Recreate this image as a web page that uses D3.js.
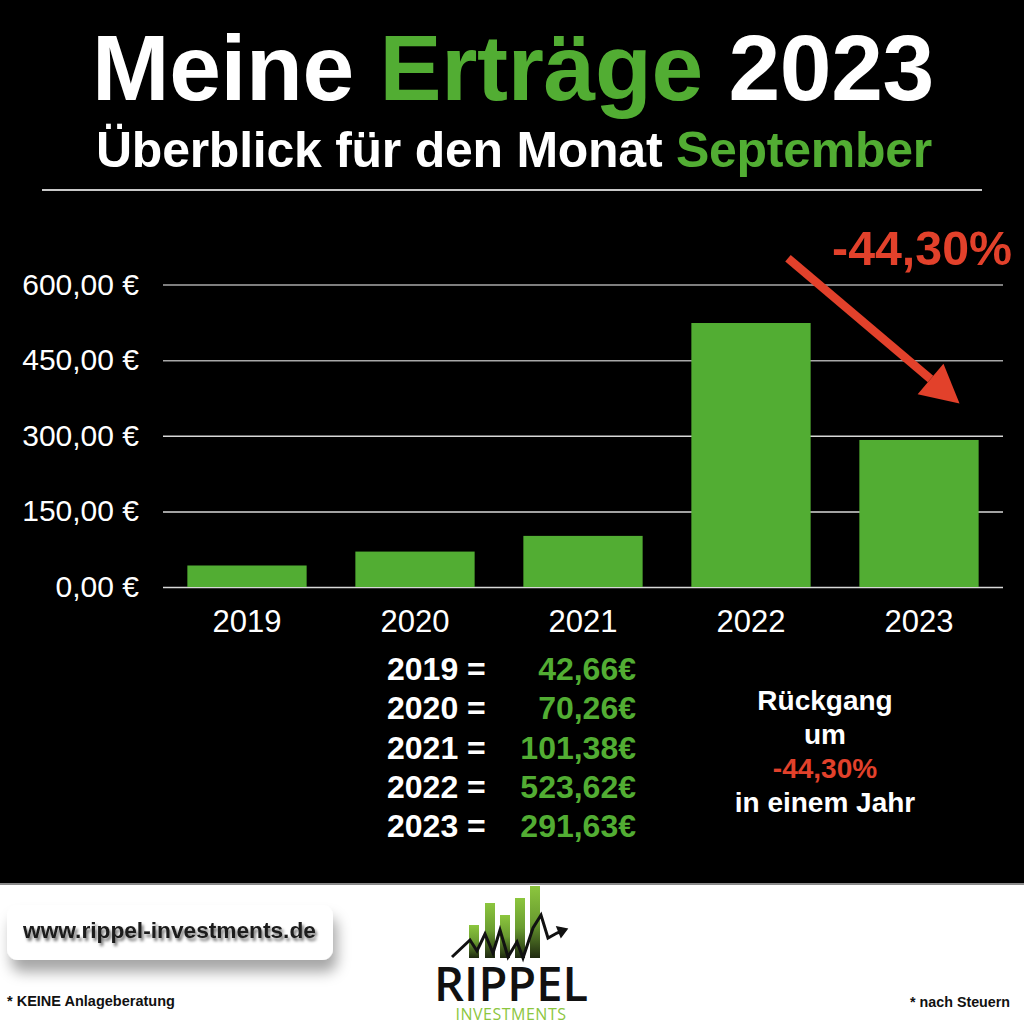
<!DOCTYPE html>
<html>
<head>
<meta charset="utf-8">
<script src="https://cdn.jsdelivr.net/npm/d3@7"></script>
<style>
  html, body { margin: 0; padding: 0; background: #fff; }
  svg { display: block; }
</style>
</head>
<body>
<svg id="chart" width="1024" height="1024"></svg>
<script>
// ---------- data ----------
const years = ["2019", "2020", "2021", "2022", "2023"];
const values = [42.66, 70.26, 101.38, 523.62, 291.63];
const yTicks = [0, 150, 300, 450, 600];
const changeLabel = "-44,30%";
const titleParts = ["Meine ", "Erträge", " 2023"];
const subtitleParts = ["Überblick für den Monat ", "September"];
const sideLines = ["Rückgang", "um", "-44,30%", "in einem Jahr"];
const footerLeft = "* KEINE Anlageberatung";
const footerRight = "* nach Steuern";
const url = "www.rippel-investments.de";

// ---------- setup ----------
const GREEN = "#52ad33";
const RED = "#e2412b";
const FONT = "'Liberation Sans', Arial, Helvetica, sans-serif";
const de = d3.formatLocale({ decimal: ",", thousands: ".", grouping: [3], currency: ["", "€"] });
const fmt2 = de.format(",.2f");

const svg = d3.select("#chart");

function fit(sel, w) {
  const len = sel.node().getComputedTextLength();
  const fs = parseFloat(sel.attr("font-size"));
  sel.attr("font-size", fs * w / len);
  return sel;
}
function fitLS(sel, w) {
  const len = sel.node().getComputedTextLength();
  const n = sel.text().length;
  sel.attr("letter-spacing", (w - len) / n);
  return sel;
}

// backgrounds
svg.append("rect").attr("x", 0).attr("y", 0).attr("width", 1024).attr("height", 884).attr("fill", "#000");
svg.append("rect").attr("x", 0).attr("y", 884).attr("width", 1024).attr("height", 140).attr("fill", "#fff");
svg.append("line").attr("x1", 0).attr("x2", 1024).attr("y1", 884).attr("y2", 884)
  .attr("stroke", "#8a8a8a").attr("stroke-width", 2);

// ---------- titles ----------
const title = svg.append("text")
  .attr("x", 513).attr("y", 100).attr("text-anchor", "middle")
  .attr("font-family", FONT).attr("font-weight", "bold").attr("font-size", 93).attr("fill", "#fff");
title.selectAll("tspan").data(titleParts).join("tspan")
  .attr("fill", (d, i) => i === 1 ? GREEN : "#fff").text(d => d);
fitLS(title, 842);

const sub = svg.append("text")
  .attr("x", 514).attr("y", 167).attr("text-anchor", "middle")
  .attr("font-family", FONT).attr("font-weight", "bold").attr("font-size", 50).attr("fill", "#fff");
sub.selectAll("tspan").data(subtitleParts).join("tspan")
  .attr("fill", (d, i) => i === 1 ? GREEN : "#fff").text(d => d);
fitLS(sub, 836);

svg.append("line").attr("x1", 42).attr("x2", 982).attr("y1", 190).attr("y2", 190)
  .attr("stroke", "#c8c8c8").attr("stroke-width", 2);

// ---------- chart ----------
const x = d3.scaleBand().domain(years).range([163, 1003]).paddingInner(0.29).paddingOuter(0.145);
const y = d3.scaleLinear().domain([0, 600]).range([587, 284.5]);

const yAxis = svg.append("g").attr("transform", "translate(163,0)")
  .call(d3.axisLeft(y).tickValues(yTicks).tickSize(-(1003 - 163)).tickPadding(24)
    .tickFormat(d => fmt2(d) + " €"));
yAxis.select(".domain").remove();
yAxis.selectAll(".tick line").attr("stroke", (d) => d >= 450 ? "#a8a8a8" : "#d8d8d8").attr("stroke-width", 1.5);
yAxis.selectAll(".tick text").attr("fill", "#fff").attr("font-family", FONT).attr("font-size", 30);

svg.append("g").selectAll("rect").data(values).join("rect")
  .attr("x", (d, i) => x(years[i]))
  .attr("width", x.bandwidth())
  .attr("y", d => y(d))
  .attr("height", d => y(0) - y(d))
  .attr("fill", GREEN);

const xAxis = svg.append("g").attr("transform", `translate(0,${y(0)})`)
  .call(d3.axisBottom(x).tickSize(0).tickPadding(23));
xAxis.select(".domain").remove();
xAxis.selectAll(".tick text").attr("fill", "#fff").attr("font-family", FONT).attr("font-size", 31);

// ---------- arrow annotation ----------
const ax0 = x("2022") + x.bandwidth() * 0.81, ay0 = y(652);
const ax1 = x("2023") + x.bandwidth() * 0.84, ay1 = y(364);
const ang = Math.atan2(ay1 - ay0, ax1 - ax0);
const headLen = 38, headHalf = 20, shaftW = 8.5;
const bx = ax1 - headLen * Math.cos(ang), by = ay1 - headLen * Math.sin(ang);
const nx = -Math.sin(ang), ny = Math.cos(ang);
svg.append("line").attr("x1", ax0).attr("y1", ay0).attr("x2", bx).attr("y2", by)
  .attr("stroke", RED).attr("stroke-width", shaftW);
svg.append("path")
  .attr("d", `M${ax1},${ay1}L${bx + nx * headHalf},${by + ny * headHalf}L${bx - nx * headHalf},${by - ny * headHalf}Z`)
  .attr("fill", RED);

const pct = svg.append("text").attr("x", 1012).attr("y", 265).attr("text-anchor", "end")
  .attr("font-family", FONT).attr("font-weight", "bold").attr("font-size", 46).attr("fill", RED)
  .text(changeLabel);
fit(pct, 180);

// ---------- value table ----------
const rowY = d3.scaleLinear().domain([0, 4]).range([680, 837]);
const tbl = svg.append("g").attr("font-family", FONT).attr("font-weight", "bold").attr("font-size", 32);
tbl.selectAll("text.lbl").data(years).join("text").attr("class", "lbl")
  .attr("x", 387).attr("y", (d, i) => rowY(i)).attr("fill", "#fff")
  .text(d => d + " =");
tbl.selectAll("text.val").data(values).join("text").attr("class", "val")
  .attr("x", 636).attr("y", (d, i) => rowY(i)).attr("text-anchor", "end").attr("fill", GREEN)
  .text(d => fmt2(d) + "€");

const side = svg.append("g").attr("font-family", FONT).attr("font-weight", "bold").attr("font-size", 28)
  .attr("text-anchor", "middle");
side.selectAll("text").data(sideLines).join("text")
  .attr("x", 825).attr("y", (d, i) => 710 + i * 34)
  .attr("fill", (d, i) => i === 2 ? RED : "#fff")
  .text(d => d);

// ---------- footer ----------
const defs = svg.append("defs");
const fBox = defs.append("filter").attr("id", "boxShadow").attr("x", "-20%").attr("y", "-40%").attr("width", "140%").attr("height", "200%");
fBox.append("feDropShadow").attr("dx", 4).attr("dy", 12).attr("stdDeviation", 7)
  .attr("flood-color", "#000").attr("flood-opacity", 0.35);
const fTxt = defs.append("filter").attr("id", "txtShadow").attr("x", "-10%").attr("y", "-50%").attr("width", "120%").attr("height", "200%");
fTxt.append("feDropShadow").attr("dx", 2).attr("dy", 3).attr("stdDeviation", 1.6)
  .attr("flood-color", "#000").attr("flood-opacity", 0.55);

svg.append("rect").attr("x", 7).attr("y", 905).attr("width", 326).attr("height", 55).attr("rx", 11)
  .attr("fill", "#fff").attr("filter", "url(#boxShadow)");
const urlT = svg.append("text").attr("x", 23).attr("y", 938)
  .attr("font-family", FONT).attr("font-weight", "bold").attr("font-size", 22).attr("fill", "#1a1a1a")
  .attr("filter", "url(#txtShadow)").text(url);
fit(urlT, 293);

const fl = svg.append("text").attr("x", 7).attr("y", 1006)
  .attr("font-family", FONT).attr("font-weight", "bold").attr("font-size", 14).attr("fill", "#111").text(footerLeft);
fit(fl, 168);
const fr = svg.append("text").attr("x", 1010).attr("y", 1007).attr("text-anchor", "end")
  .attr("font-family", FONT).attr("font-weight", "bold").attr("font-size", 14).attr("fill", "#111").text(footerRight);
fit(fr, 100);

// ---------- logo ----------
const logo = svg.append("g");
const lg = defs.append("linearGradient").attr("id", "barGrad").attr("x1", 0).attr("y1", 0).attr("x2", 0).attr("y2", 1);
lg.append("stop").attr("offset", "0%").attr("stop-color", "#8cc63e");
lg.append("stop").attr("offset", "50%").attr("stop-color", "#6a9c30");
lg.append("stop").attr("offset", "100%").attr("stop-color", "#1f2a10");
const logoBars = [[469, 925], [485, 903], [500, 915], [515, 898], [530, 886]];
logo.selectAll("rect").data(logoBars).join("rect")
  .attr("x", d => d[0]).attr("y", d => d[1]).attr("width", 10).attr("height", d => 958 - d[1])
  .attr("fill", "url(#barGrad)");
const zz = [[452, 957], [470, 940], [477, 951], [485, 934], [493, 953], [500, 930], [508, 957], [517, 942],
  [523, 958], [533, 928], [541, 915], [548, 938], [557, 933], [562, 931]];
logo.append("path").attr("d", d3.line()(zz)).attr("fill", "none").attr("stroke", "#111")
  .attr("stroke-width", 3).attr("stroke-linejoin", "miter");
logo.append("path").attr("d", "M567,929L557,927L561,937Z").attr("fill", "#111").attr("stroke", "#111").attr("stroke-width", 1.5);
const rip = logo.append("text").attr("x", 511).attr("y", 1001).attr("text-anchor", "middle")
  .attr("font-family", "'Open Sans', sans-serif").attr("font-weight", 600).attr("font-size", 52)
  .attr("fill", "#111").text("RIPPEL");
fit(rip, 154);
const inv = logo.append("text").attr("x", 511).attr("y", 1020).attr("text-anchor", "middle")
  .attr("font-family", "'Open Sans', sans-serif").attr("font-weight", 500).attr("font-size", 16)
  .attr("fill", "#8cc63e").text("INVESTMENTS");
fitLS(inv, 111);
</script>
</body>
</html>
